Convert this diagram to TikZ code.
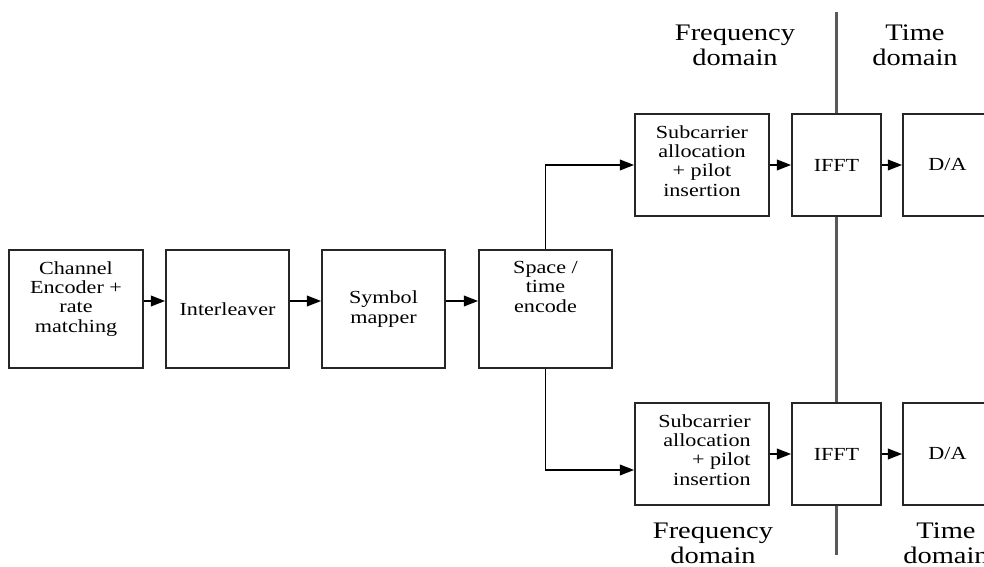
\documentclass[tikz,border=0pt]{standalone}
\usepackage{fontspec}
\setmainfont[FakeStretch=1.2]{Liberation Serif}
\usetikzlibrary{positioning}
\usetikzlibrary{arrows, arrows.meta}

\begin{document}
\begin{tikzpicture}[x=0.02cm, y=-0.02cm]

\useasboundingbox (0, 0) rectangle (984, 567) ;

\tikzstyle{block} = [draw=black!85, line width=1.1pt, inner sep=0pt, align=center,
	minimum height=2.36cm, font=\fontsize{10.5}{11}\selectfont]
\tikzstyle{block text} = [inner sep=0pt, align=center, font=\fontsize{10.5}{11}\selectfont]
\tikzstyle{domain text} = [inner sep=0pt, align=center, font=\fontsize{13.5}{14.2}\selectfont]
\tikzstyle{signal line} = [line width=1pt, -{Triangle[length=8pt, width=6pt]}]
\tikzstyle{domain line} = [line width=1.2pt, color=black!65]

% transmitter chain

\node [block, minimum width=2.68cm] (enc) at (76, 309) {} ;
\node [block text, below=0.24cm of enc.north] (enc text) {Channel\\Encoder +\\rate\\matching} ;

\node [block, minimum width=2.46cm] (intl) at (227.5, 309) {Interleaver} ;
\node [block, minimum width=2.46cm] (map) at (383.5, 309) {Symbol\\mapper} ;

\node [block, minimum width=2.66cm] (stc) at (545.5, 309) {} ;
\node [block text, below=0.24cm of stc.north] (stc text) {Space /\\time\\encode} ;

\foreach \from/\to in {enc/intl, intl/map, map/stc}
	\draw [signal line] ([yshift=0.16cm] \from.east) -- ([yshift=0.16cm] \to.west) ;

% antenna branches

\tikzstyle{branch block} = [block, minimum height=2.04cm]

\node [branch block, minimum width=2.68cm] (subA) at (702, 165) {} ;
\node [block text, below=0.24cm of subA.north] (subA text) {Subcarrier\\allocation\\+ pilot\\insertion} ;
\node [branch block, minimum width=1.78cm] (ifftA) at (836.5, 165) {IFFT} ;
\node [branch block, minimum width=1.78cm] (daA) at (947.5, 165) {D/A} ;

\node [branch block, minimum width=2.68cm] (subB) at (702, 454) {} ;
\node [block text, align=right, below left=0.24cm and 0.38cm of subB.north east] (subB text)
	{Subcarrier\\allocation\\+ pilot\\insertion} ;
\node [branch block, minimum width=1.78cm] (ifftB) at (836.5, 454) {IFFT} ;
\node [branch block, minimum width=1.78cm] (daB) at (947.5, 454) {D/A} ;

\draw [signal line] (stc.north) |- (subA.west) ;
\draw [signal line] (stc.south) |- ([yshift=-0.32cm] subB.west) ;

\foreach \from/\to in {subA/ifftA, ifftA/daA, subB/ifftB, ifftB/daB}
	\draw [signal line] (\from.east) -- (\to.west) ;

% frequency / time split

\coordinate (split top) at (836.5, 12) ;
\coordinate (split bottom) at (836.5, 555) ;

\draw [domain line] (split top) -- (ifftA.north) (ifftA.south) -- (ifftB.north)
	(ifftB.south) -- (split bottom) ;

\node [domain text] (freq top) at (735, 45) {Frequency\\domain} ;
\node [domain text] (time top) at (915, 45) {Time\\domain} ;
\node [domain text] (freq bottom) at (713, 543) {Frequency\\domain} ;
\node [domain text] (time bottom) at (946, 543) {Time\\domain} ;

\end{tikzpicture}
\end{document}
